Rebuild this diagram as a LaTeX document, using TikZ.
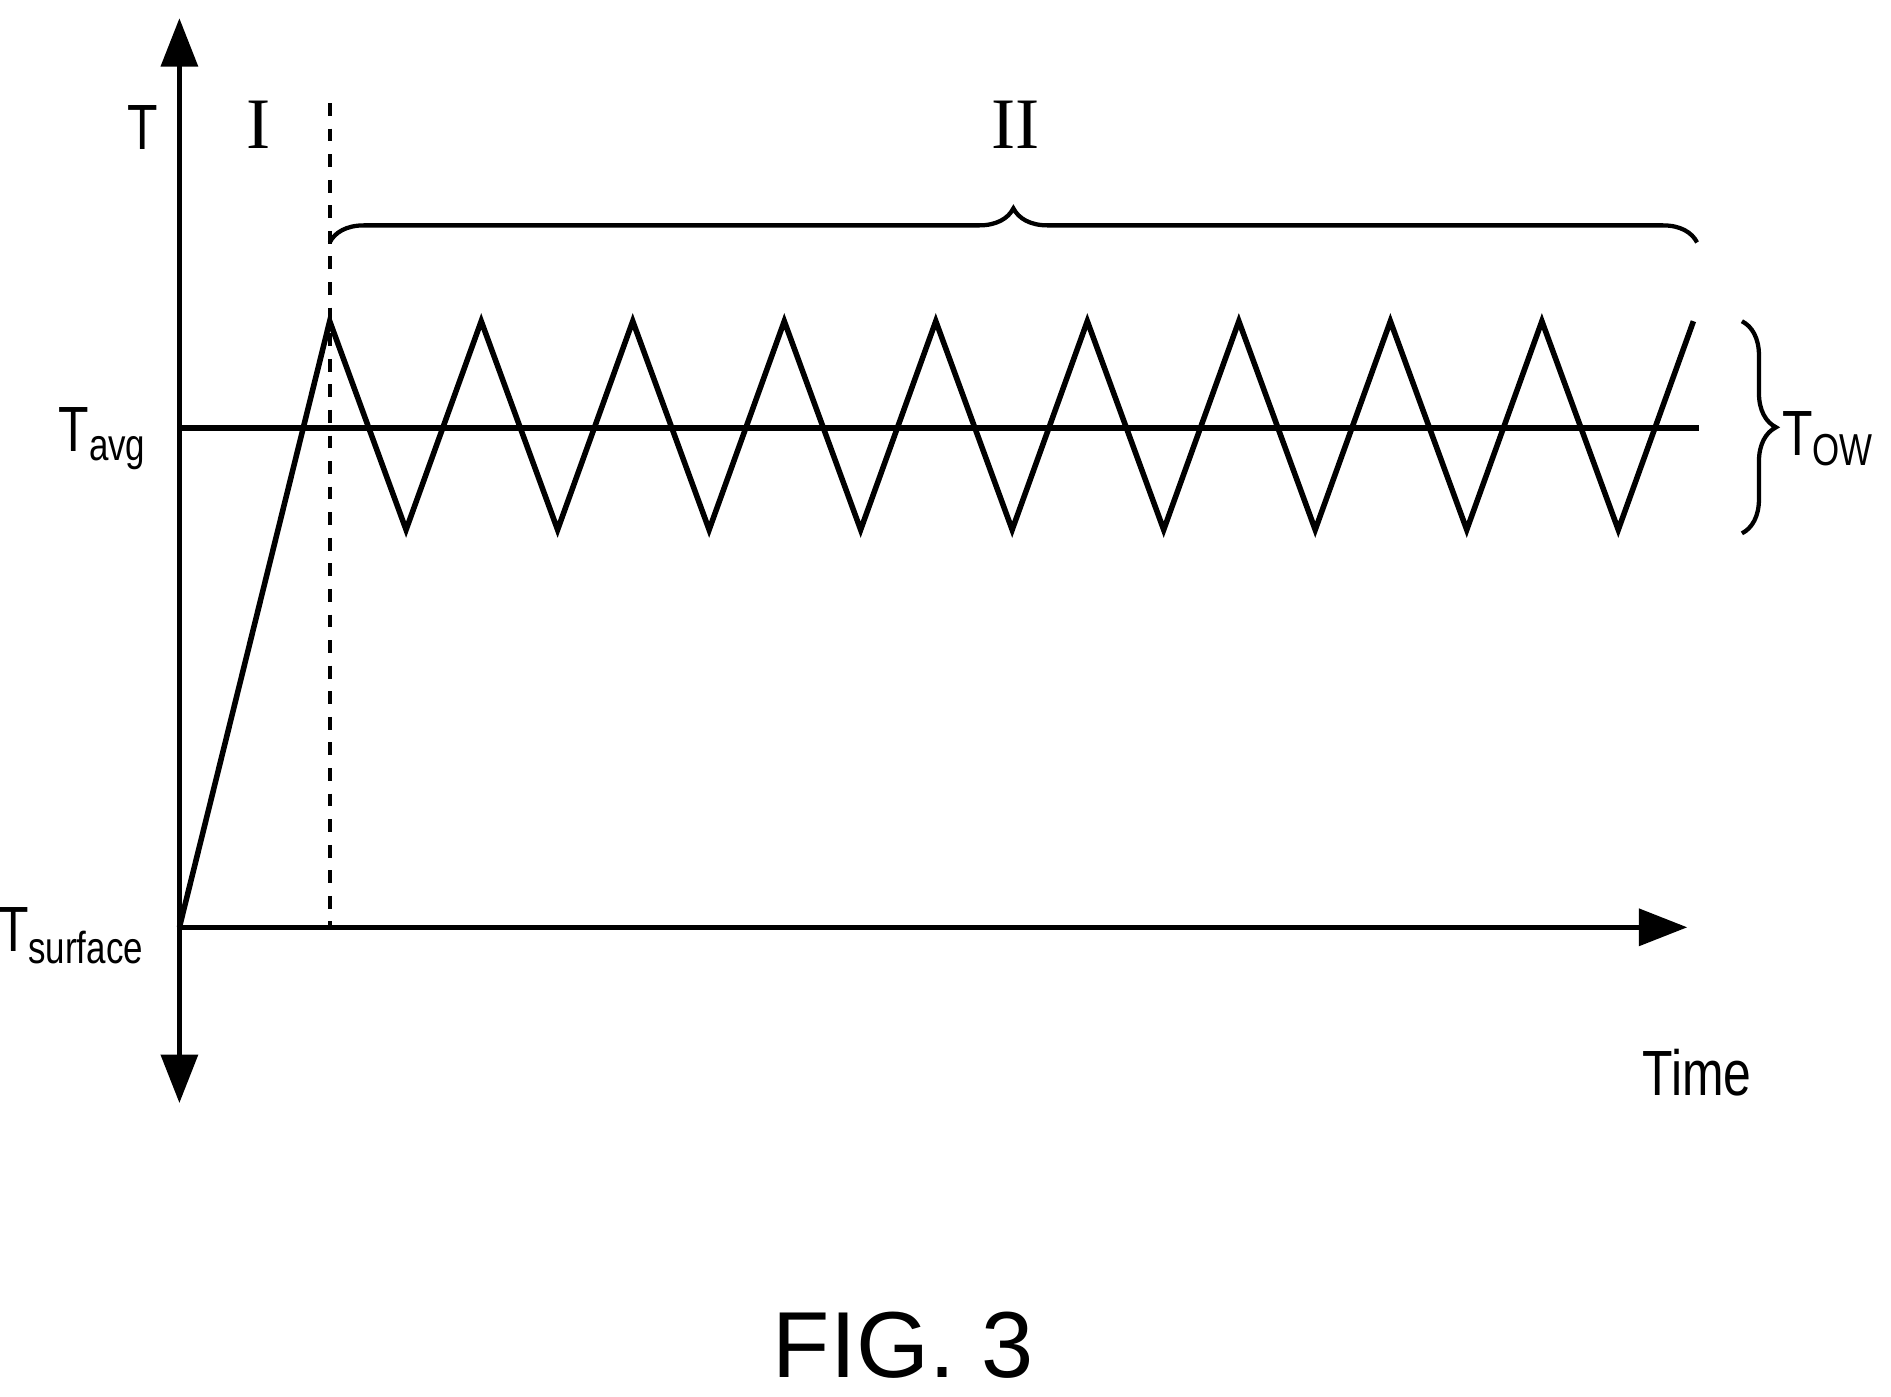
\documentclass[tikz,border=0pt]{standalone}
\usepackage{fontspec}
\setmainfont{Liberation Sans}
\newfontfamily\romanfont{Liberation Serif}
\usetikzlibrary{arrows.meta,decorations.pathreplacing}
\begin{document}
\begin{tikzpicture}[x=0.01cm,y=-0.01cm,line width=1.3pt,
  axis/.style={{Triangle[length=4mm,width=3mm]}-{Triangle[length=4mm,width=3mm]}},
  lbl/.style={inner sep=0pt,font=\fontsize{15}{17}\selectfont\addfontfeature{FakeStretch=0.78}},
  roman/.style={font=\fontsize{17}{19}\selectfont\romanfont}]
\useasboundingbox (0,0) rectangle (1560,1152);
\coordinate (top) at (148,15);
\coordinate (bot) at (148,910);
\coordinate (o) at (148,765);
\coordinate (xend) at (1392,765);
\coordinate (d0) at (272,85);
\coordinate (d1) at (272,765);
\coordinate (a0) at (148,353);
\coordinate (a1) at (1402,353);
\draw[axis] (top) -- (bot);
\draw[-{Triangle[length=4mm,width=3mm]}] (o) -- (xend);
\draw[dashed,line width=1pt] (d0) -- (d1);
\draw (a0) -- (a1);
% saw-tooth curve
\draw (o) -- (272,265)
  \foreach \k in {0,...,8}{ -- ({335+125*\k},437) -- ({397+125*\k},265)};
\draw[decorate,decoration={brace,amplitude=8pt},line width=1pt] (272,200) -- (1400,200);
\draw[decorate,decoration={brace,amplitude=8pt},line width=1pt] (1437,265) -- (1437,440);
\node[lbl] (tlab) at (118,105) {T};
\node[roman] (one) at (213,103) {I};
\node[roman] (two) at (838,103) {II};
\node[lbl,anchor=east] (tavg) at (124,362) {T\textsubscript{avg}};
\node[lbl,anchor=east] (tsurf) at (122,772) {T\textsubscript{surface}};
\node[lbl,anchor=west] (tow) at (1468,362) {T\textsubscript{OW}};
\node[lbl] (time) at (1400,885) {Time};
\node[font=\fontsize{22}{24}\selectfont] (fig) at (745,1110) {FIG. 3};
\end{tikzpicture}
\end{document}
